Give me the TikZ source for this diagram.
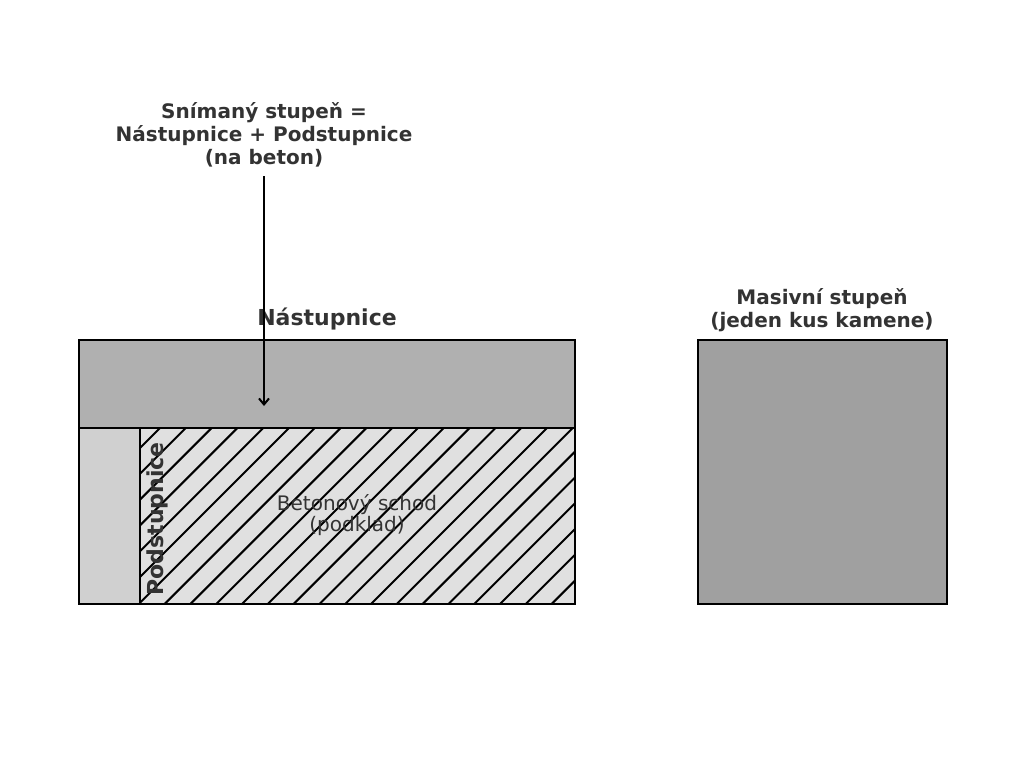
\documentclass[tikz,border=0pt]{standalone}
\usepackage{fontspec}
\setmainfont{DejaVu Sans}
\usepackage{tikz}
\usetikzlibrary{arrows.meta,positioning}
\definecolor{cT}{HTML}{333333}
\definecolor{cN}{HTML}{B0B0B0}
\definecolor{cP}{HTML}{D0D0D0}
\definecolor{cB}{HTML}{E0E0E0}
\definecolor{cM}{HTML}{A0A0A0}
\tikzset{
  part/.style={draw=black,line width=2pt},
  lbl/.style={text=cT,font=\fontsize{20}{23}\selectfont\bfseries,align=center,inner sep=0pt},
  biglbl/.style={text=cT,font=\fontsize{22}{25}\selectfont\bfseries,align=center,inner sep=0pt},
  thin/.style={text=cT,font=\fontsize{20}{21}\selectfont,align=center,inner sep=0pt},
  hatchline/.style={line width=2pt,black},
  pointer/.style={-{Straight Barb[length=6pt,width=10pt]},line width=2pt,black},
}

\begin{document}
\begin{tikzpicture}[x=1pt,y=-1pt]
  \useasboundingbox (0,0) rectangle (1024,768);
  % staircase on concrete
  \fill[cB] (140,428) rectangle (575,604);
  \begin{scope}
    \clip (140,428) rectangle (575,604);
    \foreach \k in {-2,...,30}
      \draw[hatchline] ({588+25.8*\k-428},428) -- ({588+25.8*\k-604},604);
  \end{scope}
  \draw[part] (140,428) rectangle (575,604);
  \draw[part,fill=cN] (79,340) rectangle (575,428);
  \draw[part,fill=cP] (79,428) rectangle (140,604);
  % solid stone step
  \draw[part,fill=cM] (698,340) rectangle (947,604);
  % labels
  \node[lbl] (title) at (264,135) {Snímaný stupeň =\\Nástupnice + Podstupnice\\(na beton)};
  \node[biglbl] (tread) at (327,319) {Nástupnice};
  \node[lbl] (solid) at (822,310) {Masivní stupeň\\(jeden kus kamene)};
  \node[thin] (base) at (357,515) {Betonový schod\\(podklad)};
  \node[biglbl,rotate=90] (riser) at (157,519) {Podstupnice};
  \coordinate (tip) at (264,406);
  \draw[pointer] (title.south |- 0,176) -- (tip);
\end{tikzpicture}
\end{document}
